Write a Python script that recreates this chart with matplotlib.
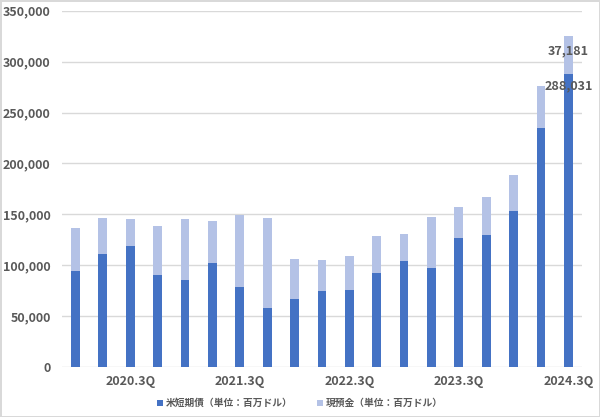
import matplotlib
matplotlib.use("Agg")
import matplotlib.pyplot as plt
from matplotlib.ticker import FuncFormatter
import numpy as np

plt.rcParams['font.family'] = ['Noto Sans CJK JP', 'DejaVu Sans']

quarters = [f"{y}.{q}Q" for y in range(2020, 2025) for q in range(1, 5)][:19]
tbills = [94500, 110900, 118800, 89900, 85300, 101700, 79000, 58400, 66900, 74500,
          76100, 92500, 103700, 97100, 126300, 129900, 153200, 234900, 288031]
cash = [42300, 35100, 26500, 48200, 59700, 41700, 69900, 88300, 39100, 30800,
        32500, 35800, 26600, 49900, 30900, 37400, 35800, 41700, 37181]
tick_labels = ["2020.3Q", "2021.3Q", "2022.3Q", "2023.3Q", "2024.3Q"]
series_names = ["米短期債（単位：百万ドル）", "現預金（単位：百万ドル）"]

dark = "#4472C4"
light = "#B4C2E6"
txt = "#595959"

fig = plt.figure(figsize=(6, 4.17), dpi=100)
fig.patch.set_edgecolor("#D9D9D9")
fig.patch.set_linewidth(2)
ax = fig.add_axes([0.103, 0.12, 0.867, 0.854])

x = np.arange(len(quarters))
w = 0.32
b1 = ax.bar(x, tbills, width=w, color=dark, label=series_names[0], zorder=3)
b2 = ax.bar(x, cash, width=w, bottom=tbills, color=light, label=series_names[1], zorder=3)

ax.set_ylim(0, 350000)
ax.set_xlim(-0.5, len(quarters) - 0.5)
ax.set_yticks(np.arange(0, 350001, 50000))
ax.yaxis.set_major_formatter(FuncFormatter(lambda v, p: f"{int(v):,}"))
tick_pos = [quarters.index(t) for t in tick_labels]
ax.set_xticks(tick_pos)
ax.set_xticklabels(tick_labels)
ax.grid(axis='y', color="#D9D9D9", linewidth=1, zorder=0)
for s in ax.spines.values():
    s.set_visible(False)
ax.tick_params(length=0, labelsize=9, labelcolor=txt)
ax.tick_params(axis='x', pad=6)
ax.tick_params(axis='y', pad=8)
for lab in ax.get_xticklabels() + ax.get_yticklabels():
    lab.set_fontweight('bold')

i = len(quarters) - 1
ax.annotate(f"{tbills[i]:,}", (x[i], tbills[i]), xytext=(0, -4), textcoords='offset points',
            ha='center', va='top', fontsize=9, fontweight='bold', color=txt, zorder=5)
ax.annotate(f"{cash[i]:,}", (x[i], tbills[i] + cash[i]), xytext=(0, -6), textcoords='offset points',
            ha='center', va='top', fontsize=9, fontweight='bold', color=txt, zorder=5)

leg = fig.legend(handles=[b1, b2], loc='lower center', bbox_to_anchor=(0.5, 0.0), ncol=2,
                 frameon=False, fontsize=7, handlelength=0.6, handleheight=0.6,
                 handletextpad=0.3, columnspacing=2.5)
for t in leg.get_texts():
    t.set_color(txt)
    t.set_fontweight('bold')

fig.savefig("out.png", dpi=100)
